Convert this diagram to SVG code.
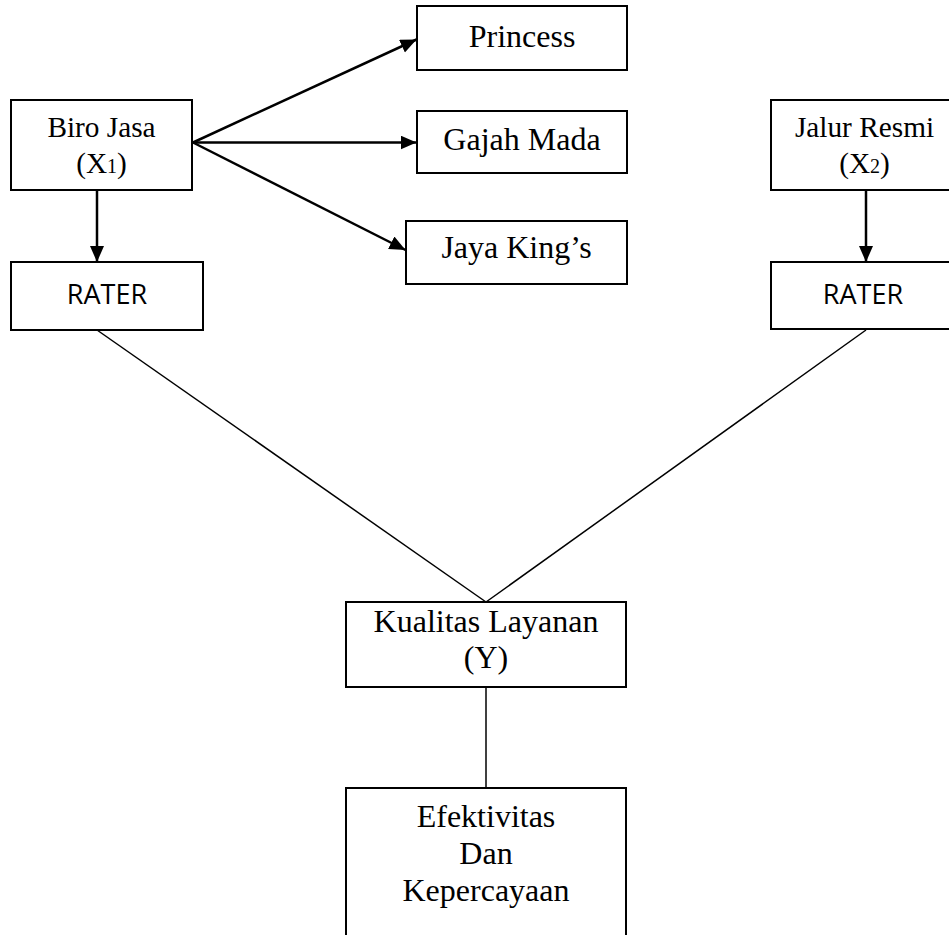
<svg xmlns="http://www.w3.org/2000/svg" width="949" height="935" viewBox="0 0 949 935">
<defs>
<style>
.box{fill:#fff;stroke:#000;stroke-width:2}
.serif{font-family:"Liberation Serif","Times New Roman",serif;fill:#000;text-anchor:middle}
.sans{font-family:"Open Sans","Liberation Sans",sans-serif;fill:#000;text-anchor:middle;font-size:27px}
.arr{stroke:#000;stroke-width:2.5;fill:none;marker-end:url(#ah)}
.ln{stroke:#000;stroke-width:1.5;fill:none}
</style>
<marker id="ah" markerUnits="userSpaceOnUse" markerWidth="18" markerHeight="15" refX="16" refY="7" orient="auto">
<path d="M0,0 L16,7 L0,14 Z" fill="#000"/>
</marker>
</defs>
<rect width="949" height="935" fill="#fff"/>
<g id="connectors">
<line class="arr" x1="193" y1="142.5" x2="416.5" y2="39.5"/>
<line class="arr" x1="193" y1="142.5" x2="416.5" y2="142.5"/>
<line class="arr" x1="193" y1="142.5" x2="405.5" y2="250"/>
<line class="arr" x1="97" y1="190" x2="97" y2="262"/>
<line class="arr" x1="866" y1="190" x2="866" y2="262"/>
<line class="ln" x1="97" y1="330" x2="486" y2="602"/>
<line class="ln" x1="866" y1="330" x2="486" y2="602"/>
<line class="ln" x1="486" y1="687" x2="486" y2="788"/>
</g>
<g id="biro-jasa">
<rect class="box" x="11" y="100" width="181" height="90"/>
<text class="serif" x="101.5" y="137" font-size="29.3">Biro Jasa</text>
<text class="serif" x="101.5" y="173" font-size="29.3">(X<tspan font-size="20">1</tspan>)</text>
</g>
<g id="princess">
<rect class="box" x="417" y="6" width="210" height="64"/>
<text class="serif" x="522" y="47" font-size="32">Princess</text>
</g>
<g id="gajah-mada">
<rect class="box" x="417" y="111" width="210" height="62"/>
<text class="serif" x="522" y="150" font-size="32">Gajah Mada</text>
</g>
<g id="jaya-kings">
<rect class="box" x="406" y="221" width="221" height="63"/>
<text class="serif" x="516.5" y="258" font-size="32">Jaya King’s</text>
</g>
<g id="jalur-resmi">
<rect class="box" x="771" y="100" width="190" height="90"/>
<text class="serif" x="864.5" y="137" font-size="29.3">Jalur Resmi</text>
<text class="serif" x="864.5" y="173" font-size="29.3">(X<tspan font-size="20">2</tspan>)</text>
</g>
<g id="rater-left">
<rect class="box" x="11" y="262" width="192" height="68"/>
<text class="sans" x="107" y="304">RATER</text>
</g>
<g id="rater-right">
<rect class="box" x="771" y="262" width="190" height="67"/>
<text class="sans" x="863" y="304">RATER</text>
</g>
<g id="kualitas-layanan">
<rect class="box" x="346" y="602" width="280" height="85"/>
<text class="serif" x="486" y="632" font-size="32">Kualitas Layanan</text>
<text class="serif" x="486" y="668" font-size="32">(Y)</text>
</g>
<g id="efektivitas">
<rect class="box" x="346" y="788" width="280" height="160"/>
<text class="serif" x="486" y="827" font-size="32">Efektivitas</text>
<text class="serif" x="486" y="864" font-size="32">Dan</text>
<text class="serif" x="486" y="901" font-size="32">Kepercayaan</text>
</g>
</svg>
